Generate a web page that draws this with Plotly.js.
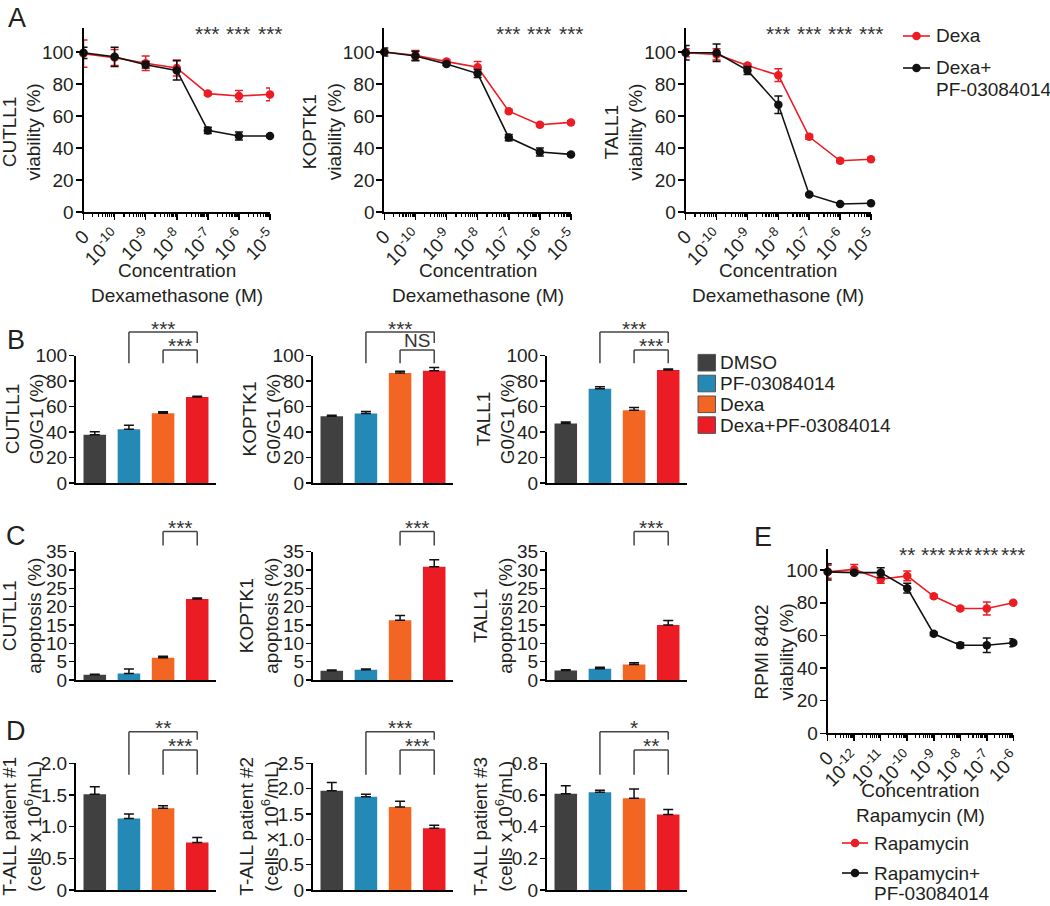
<!DOCTYPE html>
<html><head><meta charset="utf-8">
<script src="https://cdn.plot.ly/plotly-3.0.1.min.js"></script>
<style>html,body{margin:0;padding:0;background:#fff;overflow:hidden;width:1050px;height:906px}#chart{width:1050px;height:906px;overflow:hidden}</style>
</head><body><div id="chart"></div>
<script>
// ================= DATA =================
// Panel A: dexamethasone dose response (x = log10 concentration; "0" drawn one decade below 10^-10)
const dexaExponents = [-11, -10, -9, -8, -7, -6, -5];
const dexaTickText = ['0', '10<sup>-10</sup>', '10<sup>-9</sup>', '10<sup>-8</sup>', '10<sup>-7</sup>', '10<sup>-6</sup>', '10<sup>-5</sup>'];
const cellLines = ['CUTLL1', 'KOPTK1', 'TALL1'];
const cutll1Dexa      = [99, 96.5, 93, 90, 74, 72.5, 73.5];
const cutll1DexaErr   = [8.5, 5, 4.5, 5, 1, 3.5, 4];
const cutll1DexaPF    = [99.5, 97, 92, 88.5, 51, 47.5, 47.5];
const cutll1DexaPFErr = [3.5, 6, 2, 6, 2, 2.5, 1];
const koptk1Dexa      = [100, 98, 94, 90.5, 63, 54.5, 56];
const koptk1DexaErr   = [1, 3, 1, 3.5, 1, 1, 1];
const koptk1DexaPF    = [100, 97.5, 92.5, 86.5, 46.5, 37.5, 36];
const koptk1DexaPFErr = [2.5, 3, 1, 2.5, 2, 2.5, 1];
const tall1Dexa       = [99.5, 98.5, 91.5, 85.5, 47, 32, 33];
const tall1DexaErr    = [2.5, 3.5, 1, 4, 1.5, 1, 1];
const tall1DexaPF     = [99.5, 99.5, 88.5, 67, 11, 5, 5.5];
const tall1DexaPFErr  = [4.5, 5.5, 2.5, 5.5, 0.5, 0.5, 0.5];
const dexaStars = [
  ['', '', '', '', '***', '***', '***'],
  ['', '', '', '', '***', '***', '***'],
  ['', '', '', '***', '***', '***', '***']
];
const lineSeriesNames = [['Dexa'], ['Dexa+', 'PF-03084014']];

// Panels B-D: treatment conditions
const conditions = ['DMSO', 'PF-03084014', 'Dexa', 'Dexa+PF-03084014'];
const conditionIndex = [0, 1, 2, 3];
// B: G0/G1 (%)
const g0g1Cutll1 = [38, 42.3, 54.8, 67.6];   const g0g1Cutll1Err = [2.2, 3, 1.2, 0.6];
const g0g1Koptk1 = [52.5, 54.6, 86.4, 88.2]; const g0g1Koptk1Err = [0.8, 1.6, 1.3, 2.6];
const g0g1Tall1  = [46.7, 74, 57.2, 88.7];   const g0g1Tall1Err  = [1.3, 1.6, 2.1, 0.8];
const g0g1Labels = [['***', '***'], ['***', 'NS'], ['***', '***']];
// C: apoptosis (%)
const apoCutll1 = [1.4, 1.8, 6.1, 22.1];  const apoCutll1Err = [0.2, 1.2, 0.4, 0.3];
const apoKoptk1 = [2.5, 2.8, 16.3, 30.9]; const apoKoptk1Err = [0.2, 0.2, 1.3, 1.9];
const apoTall1  = [2.6, 3.1, 4.2, 15.0];  const apoTall1Err  = [0.2, 0.4, 0.5, 1.2];
const apoLabels = [['***'], ['***'], ['***']];
// D: T-ALL patient cells (x 10^6/mL)
const patient1 = [1.51, 1.13, 1.29, 0.75];   const patient1Err = [0.12, 0.07, 0.04, 0.08];
const patient2 = [1.96, 1.84, 1.64, 1.22];   const patient2Err = [0.16, 0.05, 0.11, 0.06];
const patient3 = [0.607, 0.617, 0.58, 0.476]; const patient3Err = [0.052, 0.013, 0.058, 0.032];
const patientLabels = [['**', '***'], ['***', '***'], ['*', '**']];
const patientNames = ['T-ALL patient #1', 'T-ALL patient #2', 'T-ALL patient #3'];

// Panel E: rapamycin dose response in RPMI 8402
const rapaExponents = [-13, -12, -11, -10, -9, -8, -7, -6];
const rapaTickText = ['0', '10<sup>-12</sup>', '10<sup>-11</sup>', '10<sup>-10</sup>', '10<sup>-9</sup>', '10<sup>-8</sup>', '10<sup>-7</sup>', '10<sup>-6</sup>'];
const rapa       = [99, 100.5, 94.5, 96.5, 84, 76.5, 76.5, 80];
const rapaErr    = [4, 3, 2.5, 3, 1, 1, 4, 1];
const rapaPF     = [99, 98.5, 98.5, 89, 61, 54, 54, 55.5];
const rapaPFErr  = [5, 1, 3, 3, 1, 1.5, 4.5, 2.5];
const rapaStars  = ['', '', '', '**', '***', '***', '***', '***'];
const rapaSeriesNames = [['Rapamycin'], ['Rapamycin+', 'PF-03084014']];

// ================= STYLE / LAYOUT =================
const W = 1050, H = 906;
const FONT = 'Liberation Sans, Arial, Helvetica, sans-serif';
const TXT = '#231f20';
const RED = '#ec1c24', BLK = '#111111';
const barColors = ['#404040', '#2489b4', '#f26522', '#ec1c24'];
const dx = (a, b) => [a / W, b / W];
const dy = (top, bottom) => [1 - bottom / H, 1 - top / H];
const id = n => (n === 1 ? '' : String(n));
const xr = n => 'x' + id(n), yr = n => 'y' + id(n);

const layout = {
  width: W, height: H, autosize: false, margin: {l: 0, r: 0, t: 0, b: 0, pad: 0},
  paper_bgcolor: '#fff', plot_bgcolor: 'rgba(0,0,0,0)',
  font: {family: FONT, size: 19, color: TXT},
  showlegend: false,
  annotations: [], shapes: []
};
const traces = [];

function minorLogTicks(lo, hi) {
  const v = [];
  for (let d = lo; d < hi; d++) for (let k = 2; k <= 9; k++) v.push(d + Math.log10(k));
  return v;
}
function addAnno(o) {
  layout.annotations.push(Object.assign({showarrow: false, font: {family: FONT, size: 19, color: TXT}}, o));
}
function yTitle(n, text, shift, midFrac) {
  addAnno({xref: xr(n) + ' domain', yref: yr(n) + ' domain', x: 0, y: midFrac, xshift: -shift,
    textangle: -90, text: text, xanchor: 'center', yanchor: 'middle'});
}

// ---- line (dose-response) panels ----
function doseAxes(n, xpx, ypx, range, tickvals, ticktext) {
  layout['xaxis' + id(n)] = {
    domain: dx(xpx[0], xpx[1]), anchor: yr(n), range: range, showgrid: false, zeroline: false,
    showline: true, linewidth: 2, linecolor: '#000', ticks: 'outside', ticklen: 6, tickwidth: 1.5, tickcolor: '#000',
    tickmode: 'array', tickvals: tickvals, ticktext: ticktext, tickangle: -45, ticklabelstandoff: -2,
    tickfont: {family: FONT, size: 19, color: TXT},
    minor: {tickmode: 'array', tickvals: minorLogTicks(range[0], range[1]), ticks: 'outside', ticklen: 3, tickwidth: 1.2, tickcolor: '#000'}
  };
  layout['yaxis' + id(n)] = {
    domain: dy(ypx[0], ypx[1]), anchor: xr(n), range: [0, 115], showgrid: false, zeroline: false,
    showline: true, linewidth: 2, linecolor: '#000', ticks: 'outside', ticklen: 6, tickwidth: 1.5, tickcolor: '#000',
    ticklabelstandoff: -2,
    tickmode: 'array', tickvals: [0, 20, 40, 60, 80, 100], tickfont: {family: FONT, size: 19, color: TXT}
  };
}
function doseTrace(n, x, y, err, color, name) {
  traces.push({
    type: 'scatter', mode: 'lines+markers', x: x, y: y, xaxis: xr(n), yaxis: yr(n),
    name: name.join(' '), showlegend: false, cliponaxis: false,
    line: {color: color, width: 1.6}, marker: {color: color, size: 8.5},
    error_y: {type: 'data', array: err, visible: true, color: color, thickness: 1.5, width: 4}
  });
}
// manual legend entry: line + dot + label lines (position in px)
function legendEntry(x0, x1, y, color, lines, lineGap) {
  layout.shapes.push({type: 'line', xref: 'paper', yref: 'paper', x0: x0 / W, x1: x1 / W, y0: 1 - y / H, y1: 1 - y / H,
    line: {color: color, width: 1.6}});
  const xc = (x0 + x1) / 2, r = 4.3;
  layout.shapes.push({type: 'circle', xref: 'paper', yref: 'paper', x0: (xc - r) / W, x1: (xc + r) / W,
    y0: 1 - (y + r) / H, y1: 1 - (y - r) / H, fillcolor: color, line: {color: color, width: 0}});
  lines.forEach((t, k) => {
    addAnno({xref: 'paper', yref: 'paper', x: (x1 + 4) / W, y: 1 - (y + k * lineGap) / H, text: t,
      xanchor: 'left', yanchor: 'middle', align: 'left'});
  });
}

const dexaSets = [
  [cutll1Dexa, cutll1DexaErr, cutll1DexaPF, cutll1DexaPFErr],
  [koptk1Dexa, koptk1DexaErr, koptk1DexaPF, koptk1DexaPFErr],
  [tall1Dexa, tall1DexaErr, tall1DexaPF, tall1DexaPFErr]
];
const aX = [[83.5, 270], [384.3, 571], [685.7, 871]];
dexaSets.forEach((s, i) => {
  const n = i + 1;
  doseAxes(n, aX[i], [28, 212], [-11, -5], dexaExponents, dexaTickText);
  doseTrace(n, dexaExponents, s[0], s[1], RED, lineSeriesNames[0]);
  doseTrace(n, dexaExponents, s[2], s[3], BLK, lineSeriesNames[1]);
  yTitle(n, cellLines[i] + '<br>viability (%)', 62, 50 / 115);
  addAnno({xref: xr(n) + ' domain', yref: yr(n) + ' domain', x: 0.5, y: 0, yshift: -71,
    text: 'Concentration<br>Dexamethasone (M)', xanchor: 'center', yanchor: 'middle'});
  dexaStars[i].forEach((t, k) => {
    if (t) addAnno({xref: xr(n), yref: yr(n) + ' domain', x: dexaExponents[k], y: 1, yshift: -5,
      text: t, font: {family: FONT, size: 21, color: '#333'}, xanchor: 'center', yanchor: 'middle'});
  });
});
legendEntry(903, 930, 36, RED, lineSeriesNames[0], 22);
legendEntry(903, 930, 68, BLK, lineSeriesNames[1], 22);

// Panel E
doseAxes(13, [827.7, 1013.3], [549, 733.3], [-13, -6], rapaExponents, rapaTickText);
layout.yaxis13.range = [0, 113];
doseTrace(13, rapaExponents, rapa, rapaErr, RED, rapaSeriesNames[0]);
doseTrace(13, rapaExponents, rapaPF, rapaPFErr, BLK, rapaSeriesNames[1]);
yTitle(13, 'RPMI 8402<br>viability (%)', 54, 50 / 113);
addAnno({xref: 'x13 domain', yref: 'y13 domain', x: 0.5, y: 0, yshift: -70,
  text: 'Concentration<br>Rapamycin (M)', xanchor: 'center', yanchor: 'middle'});
rapaStars.forEach((t, k) => {
  if (t) addAnno({xref: 'x13', yref: 'y13 domain', x: rapaExponents[k], y: 1, yshift: -5,
    text: t, font: {family: FONT, size: 21, color: '#333'}, xanchor: 'center', yanchor: 'middle'});
});
legendEntry(842, 868, 843, RED, rapaSeriesNames[0], 20);
legendEntry(842, 868, 873, BLK, rapaSeriesNames[1], 20);

// ---- bar panels ----
const colX = [[76, 216], [313, 453], [547, 687]];
const rows = [
  {first: 4, ypx: [355.7, 483], max: 100, tv: [0, 20, 40, 60, 80, 100], tt: ['0', '20', '40', '60', '80', '100'],
   data: [[g0g1Cutll1, g0g1Cutll1Err], [g0g1Koptk1, g0g1Koptk1Err], [g0g1Tall1, g0g1Tall1Err]],
   titles: cellLines.map(c => c + '<br>G0/G1 (%)'), tshift: 51, labels: g0g1Labels,
   br: [{from: 1, to: 3, top: 1.186, legL: 0.94, legR: 1.10}, {from: 2, to: 3, top: 1.045, legL: 0.94, legR: 0.94}]},
  {first: 7, ypx: [551.7, 680], max: 35, tv: [0, 5, 10, 15, 20, 25, 30, 35], tt: ['0', '5', '10', '15', '20', '25', '30', '35'],
   data: [[apoCutll1, apoCutll1Err], [apoKoptk1, apoKoptk1Err], [apoTall1, apoTall1Err]],
   titles: cellLines.map(c => c + '<br>apoptosis (%)'), tshift: 54, labels: apoLabels,
   br: [{from: 2, to: 3, top: 1.157, legL: 1.048, legR: 1.048}]},
  {first: 10, ypx: [763.3, 890], max: null,
   data: [[patient1, patient1Err], [patient2, patient2Err], [patient3, patient3Err]],
   titles: patientNames.map(p => p + '<br>(cells x 10<sup>6</sup>/mL)'), tshift: 54, labels: patientLabels,
   br: [{from: 1, to: 3, top: 1.25, legL: 0.91, legR: 1.185}, {from: 2, to: 3, top: 1.105, legL: 0.91, legR: 0.91}]}
];
const dAxes = [
  {max: 2.0, tv: [0, 0.5, 1.0, 1.5, 2.0], tt: ['0', '0.5', '1.0', '1.5', '2.0']},
  {max: 2.5, tv: [0, 0.5, 1.0, 1.5, 2.0, 2.5], tt: ['0', '0.5', '1.0', '1.5', '2.0', '2.5']},
  {max: 0.8, tv: [0, 0.2, 0.4, 0.6, 0.8], tt: ['0', '0.2', '0.4', '0.6', '0.8']}
];
rows.forEach(row => {
  row.data.forEach((d, i) => {
    const n = row.first + i;
    const ax = row.max === null ? dAxes[i] : row;
    layout['xaxis' + id(n)] = {
      domain: dx(colX[i][0], colX[i][1]), anchor: yr(n), range: [-0.55, 3.55], showgrid: false, zeroline: false,
      showline: true, linewidth: 2, linecolor: '#000', ticks: '', showticklabels: false
    };
    layout['yaxis' + id(n)] = {
      domain: dy(row.ypx[0], row.ypx[1]), anchor: xr(n), range: [0, ax.max], showgrid: false, zeroline: false,
      showline: true, linewidth: 2, linecolor: '#000', ticks: 'outside', ticklen: 5, tickwidth: 1.5, tickcolor: '#000',
      ticklabelstandoff: -2,
      tickmode: 'array', tickvals: ax.tv, ticktext: ax.tt, tickfont: {family: FONT, size: 19, color: TXT}
    };
    traces.push({
      type: 'bar', x: conditionIndex, y: d[0], width: 0.66, xaxis: xr(n), yaxis: yr(n), showlegend: false,
      marker: {color: barColors, line: {width: 0}},
      error_y: {type: 'data', symmetric: false, array: d[1], arrayminus: d[1].map(() => 0), color: '#111', thickness: 1.5, width: 5}
    });
    yTitle(n, row.titles[i], row.tshift, 0.5);
    row.br.forEach((b, k) => {
      const ln = {type: 'line', xref: xr(n), yref: yr(n) + ' domain', line: {color: '#444', width: 1.5}};
      layout.shapes.push(Object.assign({}, ln, {x0: b.from, x1: b.to, y0: b.top, y1: b.top}));
      layout.shapes.push(Object.assign({}, ln, {x0: b.from, x1: b.from, y0: b.top, y1: b.legL}));
      layout.shapes.push(Object.assign({}, ln, {x0: b.to, x1: b.to, y0: b.top, y1: b.legR}));
      const lab = row.labels[i][k];
      addAnno({xref: xr(n), yref: yr(n) + ' domain', x: (b.from + b.to) / 2, y: b.top,
        yshift: lab === 'NS' ? 9 : 4, text: lab, xanchor: 'center', yanchor: 'middle',
        font: {family: FONT, size: lab === 'NS' ? 19 : 21, color: '#333'}});
    });
  });
});

// Bar legend (swatches + labels)
conditions.forEach((c, k) => {
  const yc = 362.7 + k * 20.8;
  layout.shapes.push({type: 'rect', xref: 'paper', yref: 'paper', x0: 698 / W, x1: 715.5 / W,
    y0: 1 - (yc + 8.3) / H, y1: 1 - (yc - 8.3) / H, fillcolor: barColors[k], line: {color: '#555', width: 1}});
  addAnno({xref: 'paper', yref: 'paper', x: 718 / W, y: 1 - yc / H, text: c, xanchor: 'left', yanchor: 'middle'});
});

// Panel letters
[['A', 17, 1], ['B', 16, 323], ['C', 16, 519], ['D', 16, 714], ['E', 763, 520]].forEach(p => {
  addAnno({xref: 'paper', yref: 'paper', x: p[1] / W, y: 1 - p[2] / H, text: p[0], xanchor: 'center', yanchor: 'top',
    font: {family: FONT, size: 27, color: TXT}});
});

Plotly.newPlot('chart', traces, layout, {staticPlot: true, displayModeBar: false});
</script>
</body></html>
